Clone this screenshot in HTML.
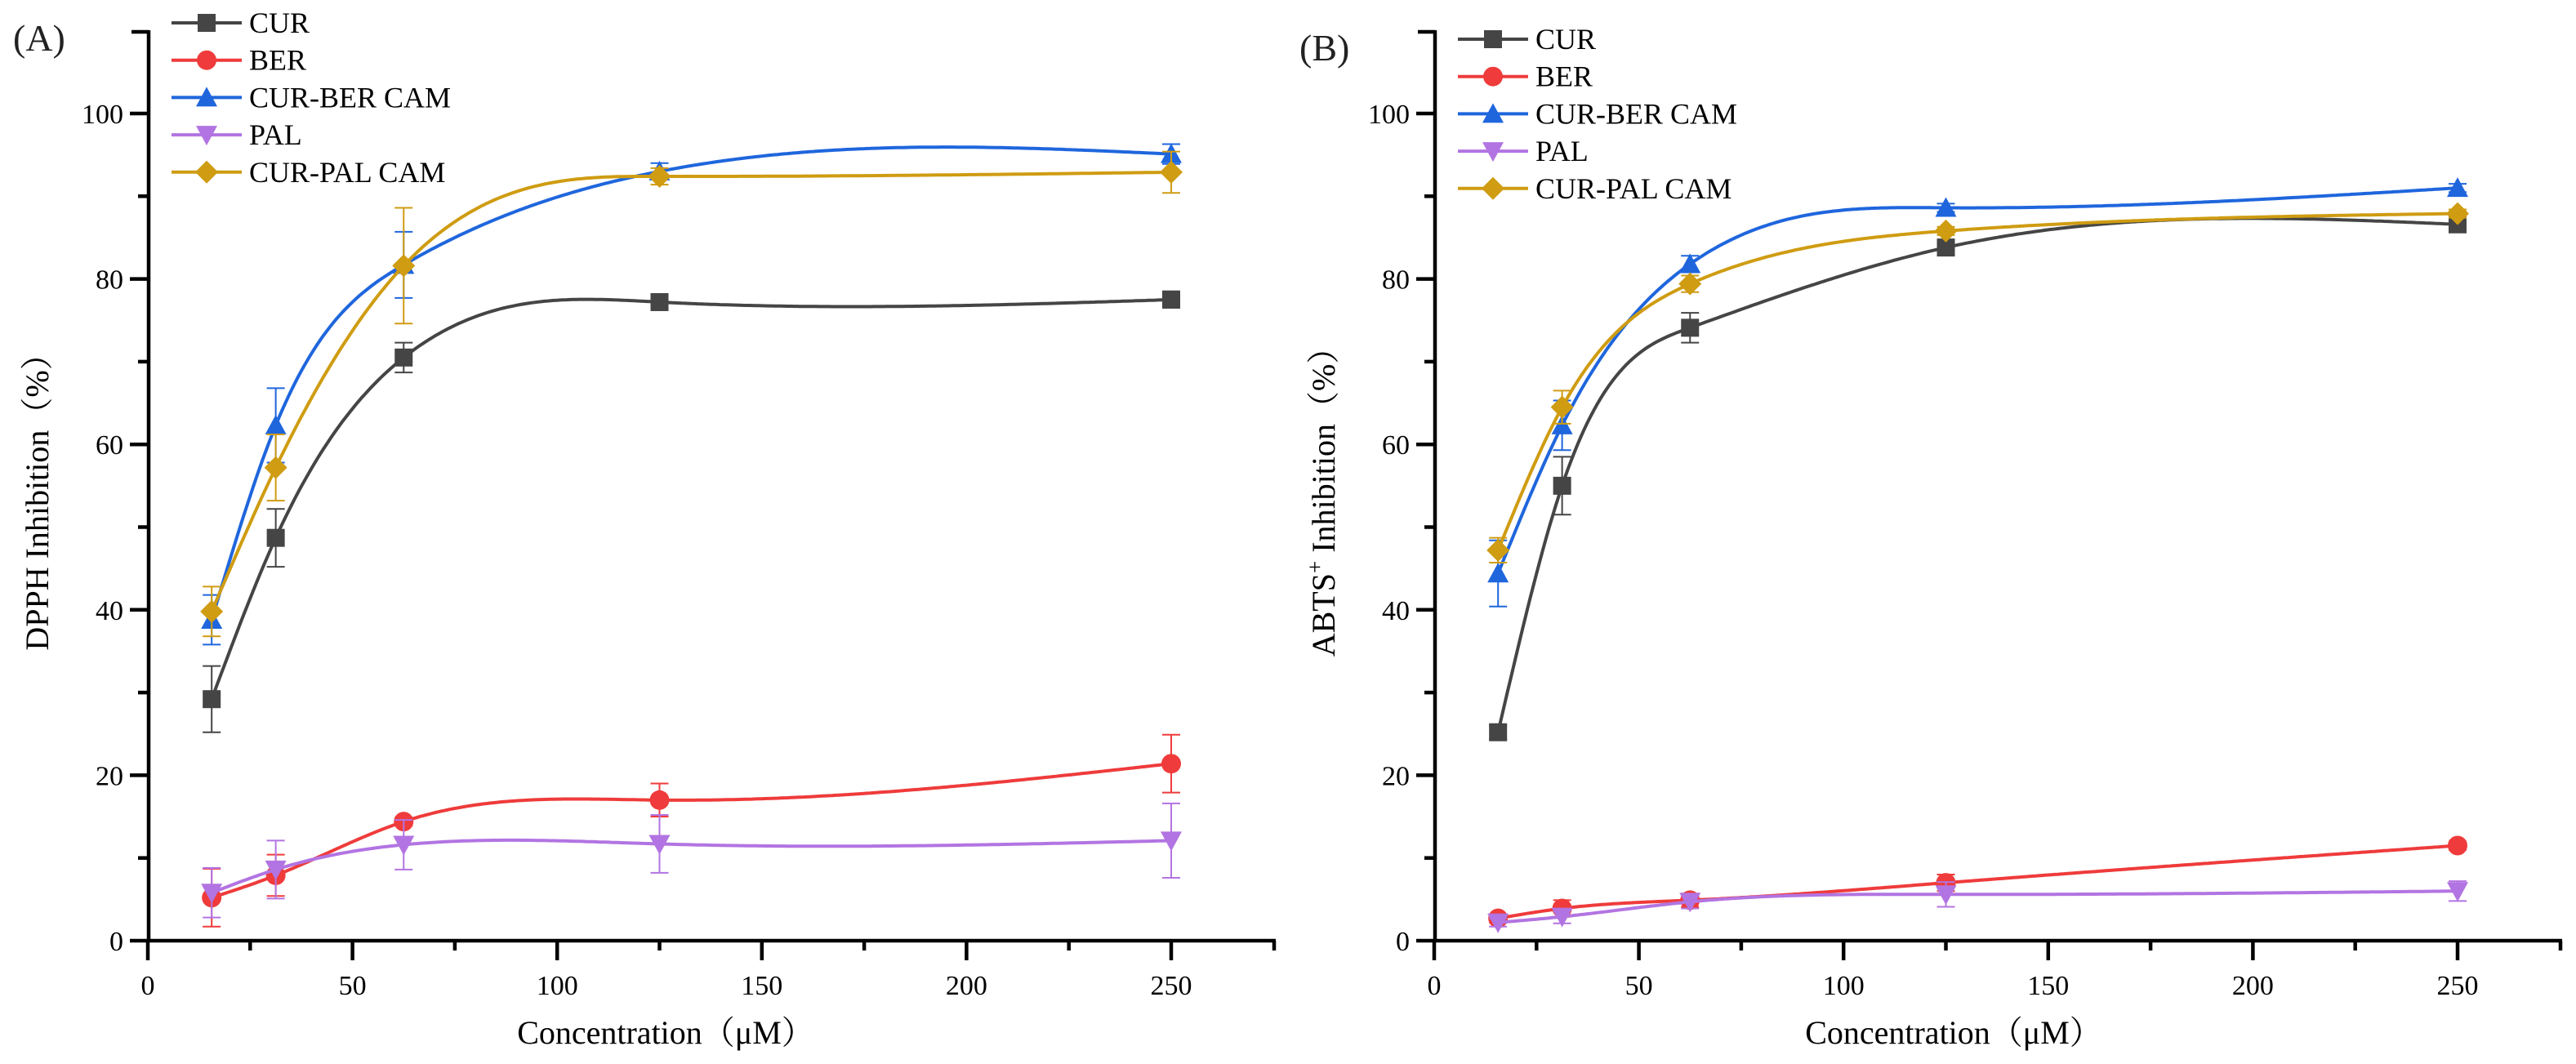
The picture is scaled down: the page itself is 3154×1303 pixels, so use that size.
<!DOCTYPE html>
<html><head><meta charset="utf-8"><style>
html,body{margin:0;padding:0;background:#fff}
svg{display:block;font-family:"Liberation Serif","Noto Serif CJK SC",serif}
</style></head><body>
<svg id="c" width="3154" height="1303" viewBox="0 0 3154 1303" xmlns="http://www.w3.org/2000/svg"></svg>
<script>
const concentrations=[15.6,31.25,62.5,125,250];
const seriesNames=["CUR","BER","CUR-BER CAM","PAL","CUR-PAL CAM"];
const xTicks=[0,50,100,150,200,250];
const yTicks=[0,20,40,60,80,100];
const aCUR=[29.2,48.7,70.5,77.2,77.5], aCURerr=[4,3.5,1.8,0.5,1];
const aBER=[5.2,7.9,14.4,17.0,21.4], aBERerr=[3.5,2.5,0.5,2,3.5];
const aCB=[38.8,62.3,81.7,93.0,95.1], aCBerr=[3,4.5,4,1,1.2];
const aPAL=[5.8,8.6,11.6,11.7,12.1], aPALerr=[3,3.5,3,3.5,4.5];
const aCP=[39.8,57.2,81.6,92.4,92.9], aCPerr=[3,4,7,1,2.5];
const bCUR=[25.2,55.0,74.1,83.8,86.6], bCURerr=[0.8,3.5,1.8,0.8,0.8];
const bBER=[2.7,3.9,4.9,7.0,11.5], bBERerr=[0.5,1,0.8,1,0.5];
const bCB=[44.4,62.3,81.8,88.6,91.0], bCBerr=[4,3,1,0.5,0.5];
const bPAL=[2.2,2.9,4.7,5.6,6.0], bPALerr=[0.5,0.8,0.8,1.5,1.2];
const bCP=[47.2,64.5,79.4,85.8,87.9], bCPerr=[1.5,2,1,0.5,0.5];

const NS="http://www.w3.org/2000/svg";
const svg=document.getElementById('c');
const colors=["#454545","#ef3b3b","#1f66dd","#b274e2","#cf9c12"];
const markers=["square","circle","tri","tridown","diamond"];
function mk(tag,attrs,parent){const e=document.createElementNS(NS,tag);for(const k in attrs)e.setAttribute(k,attrs[k]);(parent||svg).appendChild(e);return e;}
function marker(type,x,y,col,g){
  let e;const s=11;
  if(type==="square")e=mk('rect',{x:x-s,y:y-s,width:2*s,height:2*s,fill:col},g);
  else if(type==="circle")e=mk('circle',{cx:x,cy:y,r:s+1,fill:col},g);
  else if(type==="tri")e=mk('polygon',{points:`${x},${y-s-2} ${x+s+2},${y+s} ${x-s-2},${y+s}`,fill:col},g);
  else if(type==="tridown")e=mk('polygon',{points:`${x},${y+s+2} ${x+s+2},${y-s} ${x-s-2},${y-s}`,fill:col},g);
  else e=mk('polygon',{points:`${x},${y-s-3} ${x+s+3},${y} ${x},${y+s+3} ${x-s-3},${y}`,fill:col},g);
  return e;
}
// natural cubic spline through data (x in data units)
function naturalSpline(xs,ys){
  const n=xs.length,h=[],al=[0],l=[1],mu=[0],z=[0],c=new Array(n).fill(0),b=[],d=[];
  for(let i=0;i<n-1;i++)h.push(xs[i+1]-xs[i]);
  for(let i=1;i<n-1;i++)al.push(3/h[i]*(ys[i+1]-ys[i])-3/h[i-1]*(ys[i]-ys[i-1]));
  for(let i=1;i<n-1;i++){l[i]=2*(xs[i+1]-xs[i-1])-h[i-1]*mu[i-1];mu[i]=h[i]/l[i];z[i]=(al[i]-h[i-1]*z[i-1])/l[i];}
  for(let j=n-2;j>=0;j--){c[j]=(j<n-1&&j>0?z[j]-mu[j]*c[j+1]:(j===0?0:0));if(j>0)c[j]=z[j]-mu[j]*c[j+1];b[j]=(ys[j+1]-ys[j])/h[j]-h[j]*(c[j+1]+2*c[j])/3;d[j]=(c[j+1]-c[j])/(3*h[j]);}
  return x=>{let i=0;while(i<n-2&&x>xs[i+1])i++;const t=x-xs[i];return ys[i]+b[i]*t+c[i]*t*t+d[i]*t*t*t;};
}
function panel(x0,label,labelY,legTop,ytitle,yTitleSup,data,errs,key,titleX){
  const y0=1152,top=37,xEnd=x0+1381,kx=5.012,ky=10.13;
  const X=v=>x0+v*kx, Y=v=>y0-v*ky;
  const g=mk('g',{});
  const pl=mk('text',{x:x0-165,y:labelY,'font-size':46,fill:'#222'},g);pl.textContent=label;
  
  const ax=mk('g',{stroke:'#000','stroke-width':4.5,fill:'none'},g);
  mk('path',{d:`M${x0+1},${top} L${x0+1},${y0} L${xEnd},${y0}`},ax);
  mk('path',{d:`M${x0+1},${top+2} L${x0-20},${top+2}`},ax);
  mk('path',{d:`M${xEnd-2},${y0} L${xEnd-2},${y0+12}`},ax);
  for(const t of xTicks){mk('line',{x1:X(t),y1:y0,x2:X(t),y2:y0+24},ax);
    const tx=mk('text',{x:X(t),y:y0+66,'font-size':34,'text-anchor':'middle',fill:'#000',stroke:'none'},g);tx.textContent=t;
    }
  for(let t=25;t<275;t+=50)mk('line',{x1:X(t),y1:y0,x2:X(t),y2:y0+12},ax);
  for(const t of yTicks){mk('line',{x1:x0-22,y1:Y(t),x2:x0,y2:Y(t)},ax);
    const ty=mk('text',{x:x0-30,y:Y(t)+12,'font-size':34,'text-anchor':'end',fill:'#000',stroke:'none'},g);ty.textContent=t;
    }
  for(let t=10;t<=90;t+=20)mk('line',{x1:x0-12,y1:Y(t),x2:x0,y2:Y(t)},ax);
  const xt=mk('text',{x:titleX,y:1278,'font-size':40,'text-anchor':'middle',fill:'#000'},g);
  xt.textContent="Concentration（μM）";
  
  const yt=mk('text',{transform:`translate(${x0-122},${Y(54)}) rotate(-90)`,'font-size':40,'text-anchor':'middle',fill:'#000'},g);
  yt.innerHTML=yTitleSup?'ABTS<tspan baseline-shift="super" font-size="27">+</tspan> Inhibition（%）':ytitle;
  
  data.forEach((vals,si)=>{
    const sg=mk('g',{},g);
    const f=naturalSpline(concentrations,vals);
    let d='';const x1=concentrations[0],x2=concentrations[concentrations.length-1];
    for(let k=0;k<=300;k++){const xv=x1+(x2-x1)*k/300;d+=(k?'L':'M')+X(xv).toFixed(1)+','+Y(f(xv)).toFixed(1);}
    const ln=mk('path',{d:d,stroke:colors[si],'stroke-width':4,fill:'none'},sg);
    
    concentrations.forEach((c,i)=>{
      const e=errs[si][i],x=X(c);
      const eb=mk('path',{d:`M${x},${Y(vals[i]+e)} L${x},${Y(vals[i]-e)} M${x-11},${Y(vals[i]+e)} L${x+11},${Y(vals[i]+e)} M${x-11},${Y(vals[i]-e)} L${x+11},${Y(vals[i]-e)}`,stroke:colors[si],'stroke-width':2,fill:'none'},sg);
      
      const m=marker(markers[si],x,Y(vals[i]),colors[si],sg);
      
    });
  });
  const lg=mk('g',{},g);
  seriesNames.forEach((n,i)=>{
    const ly=legTop+i*45.7,lx=x0+29;
    const eg=mk('g',{},lg);
    
    mk('line',{x1:lx,y1:ly,x2:lx+86,y2:ly,stroke:colors[i],'stroke-width':4},eg);
    marker(markers[i],lx+43,ly,colors[i],eg);
    const t=mk('text',{x:lx+95,y:ly+12,'font-size':36,fill:'#000'},eg);t.textContent=n;
  });
}
panel(181,"(A)",62,28,"DPPH Inhibition（%）",false,[aCUR,aBER,aCB,aPAL,aCP],[aCURerr,aBERerr,aCBerr,aPALerr,aCPerr],'a',815);
panel(1756,"(B)",74,48,"ABTS+ Inhibition（%）",true,[bCUR,bBER,bCB,bPAL,bCP],[bCURerr,bBERerr,bCBerr,bPALerr,bCPerr],'b',2392);
</script>
</body></html>
